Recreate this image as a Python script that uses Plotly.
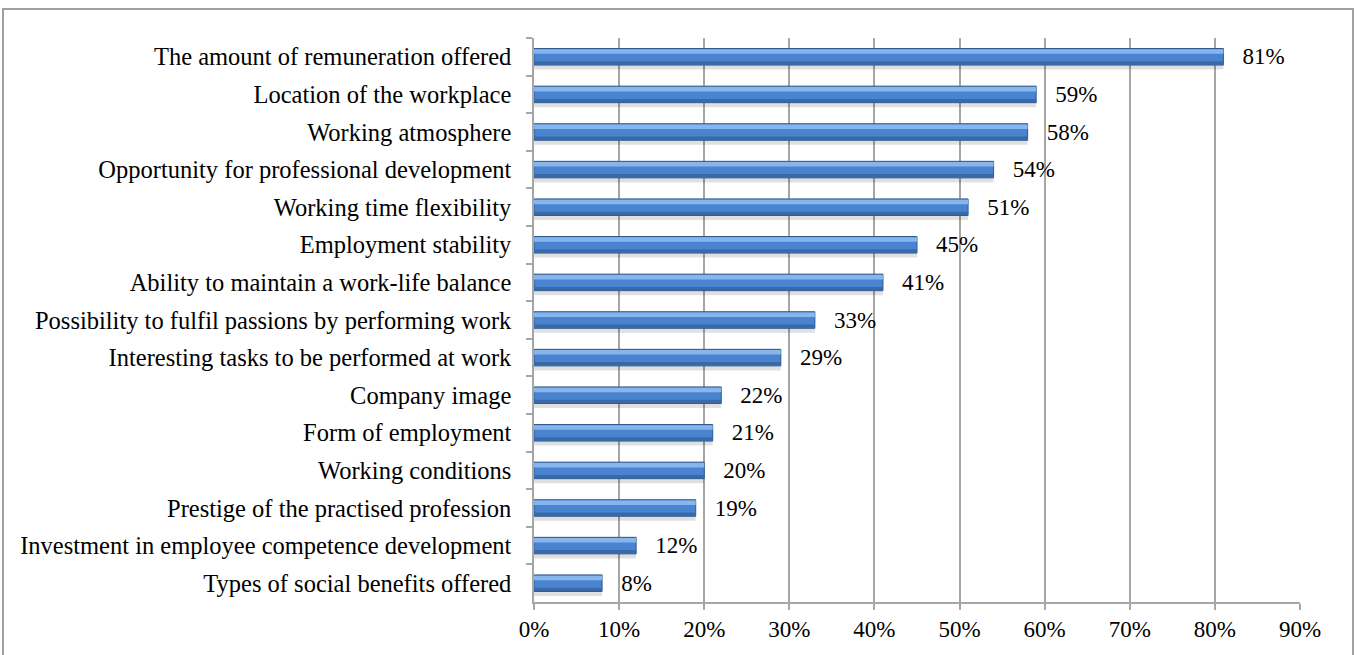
import plotly.graph_objects as go

categories = [
    "The amount of remuneration offered",
    "Location of the workplace",
    "Working atmosphere",
    "Opportunity for professional development",
    "Working time flexibility",
    "Employment stability",
    "Ability to maintain a work-life balance",
    "Possibility to fulfil passions by performing work",
    "Interesting tasks to be performed at work",
    "Company image",
    "Form of employment",
    "Working conditions",
    "Prestige of the practised profession",
    "Investment in employee competence development",
    "Types of social benefits offered",
]
values = [81, 59, 58, 54, 51, 45, 41, 33, 29, 22, 21, 20, 19, 12, 8]
labels = [f"\u00a0\u00a0\u2009{v}%" for v in values]
x_ticks = [0, 10, 20, 30, 40, 50, 60, 70, 80, 90]
x_tick_labels = [f"{t}%" for t in x_ticks]

FONT = "Liberation Serif, Times New Roman, serif"
W, H = 1357, 655
L, R, T, B = 534, 57, 38, 53
pw, ph = W - L - R, H - T - B

fig = go.Figure()
# shadow
fig.add_trace(go.Bar(
    y=categories, x=values, orientation="h", width=0.44, offset=-0.10,
    marker=dict(color="rgba(0,0,0,0.12)", line=dict(width=0)),
    hoverinfo="skip", showlegend=False,
))
# main bar
fig.add_trace(go.Bar(
    y=categories, x=values, orientation="h", width=0.44, offset=-0.22,
    marker=dict(color="#4a84d0", line=dict(color="#30598f", width=1)),
    text=labels, textposition="outside", constraintext="none",
    textfont=dict(family=FONT, size=23, color="#000000"),
    cliponaxis=False, showlegend=False,
))
# top highlight
fig.add_trace(go.Bar(
    y=categories, x=values, orientation="h", width=0.12, offset=-0.20,
    marker=dict(color="#86b6ec", line=dict(width=0)),
    hoverinfo="skip", showlegend=False,
))
# bottom dark strip
fig.add_trace(go.Bar(
    y=categories, x=values, orientation="h", width=0.09, offset=0.12,
    marker=dict(color="#3a69a8", line=dict(width=0)),
    hoverinfo="skip", showlegend=False,
))

fig.update_layout(
    width=W, height=H,
    margin=dict(l=L, r=R, t=T, b=B, pad=0, autoexpand=False),
    barmode="overlay",
    paper_bgcolor="white", plot_bgcolor="white",
    font=dict(family=FONT, size=23, color="#000000"),
    xaxis=dict(
        range=[0, 90], tickvals=x_ticks, ticktext=x_tick_labels,
        showgrid=True, gridcolor="#a6a6a6", gridwidth=1.5,
        showline=True, linecolor="#a6a6a6", linewidth=1.5,
        ticks="outside", ticklen=6, tickcolor="#a6a6a6", tickwidth=1.5,
        zeroline=False, tickfont=dict(family=FONT, size=23),
        automargin=False,
    ),
    yaxis=dict(
        type="category", categoryorder="array", categoryarray=categories,
        autorange="reversed",
        showline=True, linecolor="#a6a6a6", linewidth=1.5,
        ticks="outside", ticklen=6, tickcolor="#a6a6a6", tickwidth=1.5,
        tickson="boundaries", showgrid=False,
        tickfont=dict(family=FONT, size=24.5), ticklabelstandoff=16,
        automargin=False,
    ),
    shapes=[dict(
        type="rect", xref="paper", yref="paper",
        x0=(3 - L) / pw, x1=(1353 - L) / pw,
        y0=(H - B - 665) / ph, y1=(H - B - 9) / ph,
        line=dict(color="#a0a0a0", width=2), fillcolor="rgba(0,0,0,0)",
        layer="below",
    )],
)

fig.write_html(
    "out.html",
    config={"displayModeBar": False},
    post_script="document.body.style.margin='0';document.body.style.overflow='hidden';",
)
